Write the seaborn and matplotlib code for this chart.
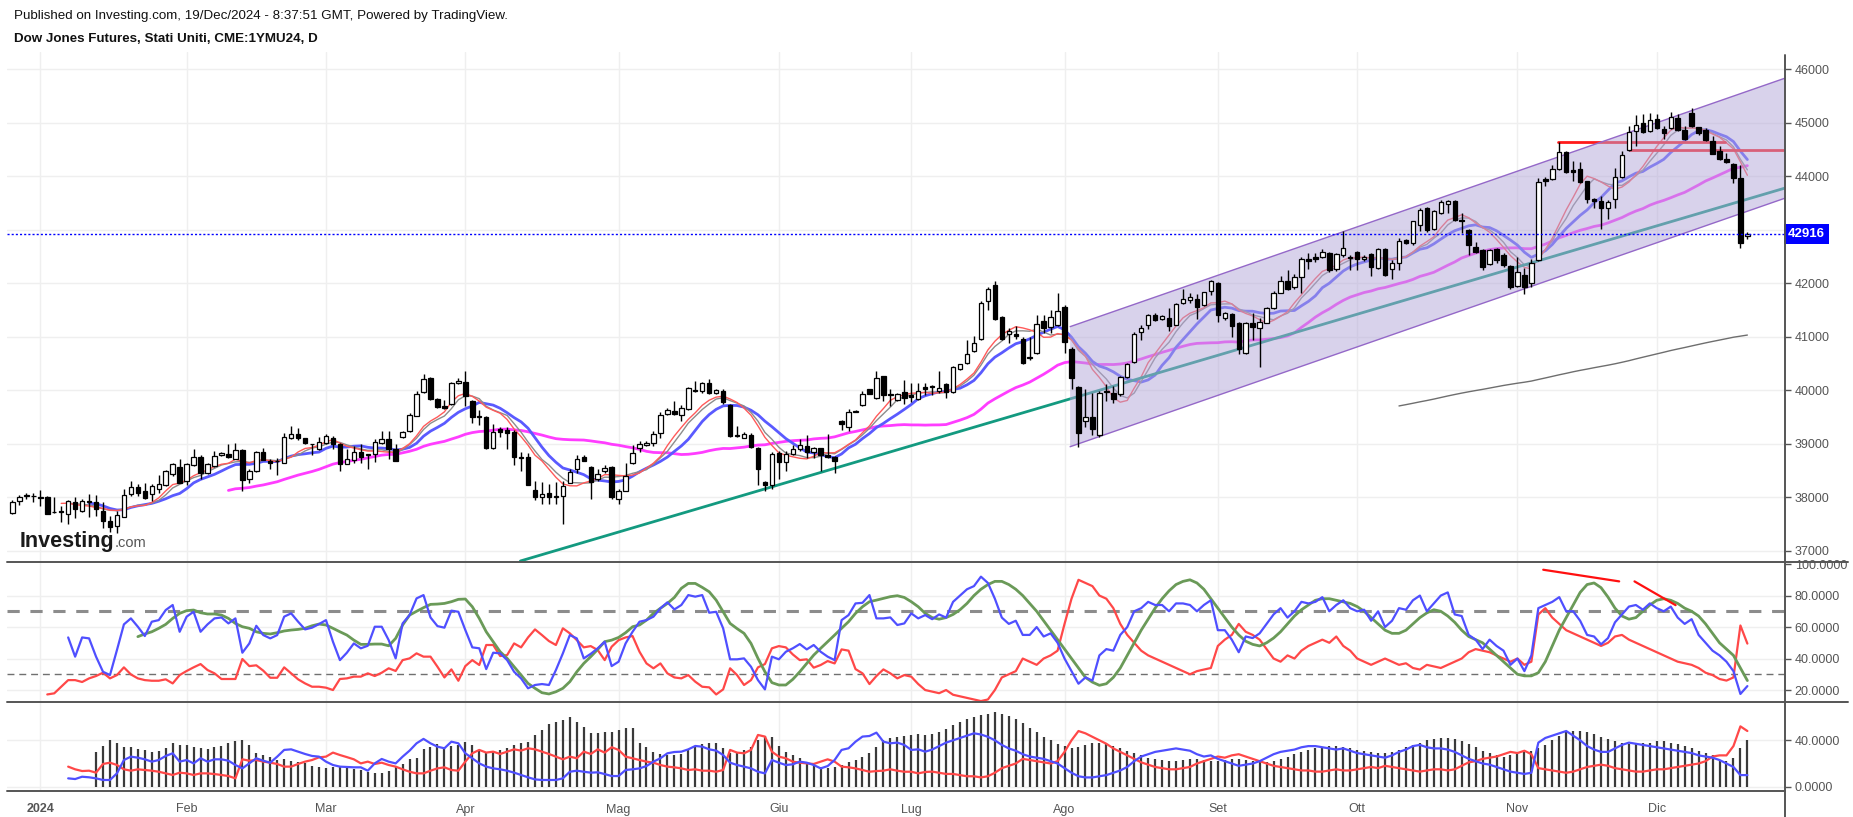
import numpy as np
import pandas as pd
import seaborn as sns
import matplotlib.pyplot as plt
from matplotlib.patches import Polygon
from matplotlib.lines import Line2D
from matplotlib.transforms import blended_transform_factory

sns.set_style("white")
plt.rcParams['font.family'] = ['Liberation Sans', 'DejaVu Sans']

# daily bars, bar 0 = 2 Jan 2024 (first bar on screen is 26 Dec 2023)
first_bar = -4
opens = [37700, 37925, 38020, 38030, 38000, 38015, 37720, 37750, 37680, 37905, 37750, 37930, 37905, 37750, 37550, 37460, 37640, 38060, 38200, 38110,
         38060, 38165, 38227, 38443, 38574, 38307, 38600, 38760, 38462, 38586, 38790, 38802, 38722, 38877, 38338, 38493, 38852, 38670, 38680, 38650,
         39100, 39190, 39100, 38990, 38908, 39020, 39110, 39000, 38630, 38690, 38852, 38800, 38815, 39020, 39093, 38895, 39124, 39236, 39527, 39966,
         40226, 39842, 39712, 39750, 40133, 40150, 39793, 39514, 39500, 38926, 39280, 39250, 39223, 38750, 38760, 38140, 37998, 38090, 38010, 38016,
         38276, 38536, 38760, 38574, 38350, 38493, 38574, 37967, 38122, 38636, 38926, 38975, 39019, 39205, 39558, 39620, 39533, 39657, 40000, 39980,
         40145, 39948, 39990, 39731, 39150, 39112, 39162, 38926, 38290, 38227, 38833, 38660, 38803, 38895, 38957, 38846, 38914, 38790, 38753, 39422,
         39316, 39595, 39731, 40022, 39855, 40270, 39935, 39811, 39960, 39904, 39836, 40053, 40084, 39980, 40112, 39970, 40390, 40514, 40731, 40960,
         41660, 41969, 41369, 41059, 41059, 40966, 40610, 40700, 41300, 41183, 41214, 41554, 40774, 40069, 39419, 39493, 39171, 39960, 39945, 39926,
         40248, 40533, 41090, 41226, 41400, 41338, 41350, 41226, 41629, 41687, 41706, 41594, 41862, 42000, 41344, 41419, 41250, 40706, 41250, 41156,
         41262, 41531, 41825, 42044, 41925, 42112, 42450, 42487, 42500, 42562, 42262, 42531, 42500, 42594, 42450, 42550, 42281, 42637, 42269, 42375,
         42812, 42750, 43094, 43406, 43012, 43312, 43487, 43531, 43187, 42987, 42687, 42625, 42356, 42637, 42531, 42331, 41950, 42156, 42012, 42437,
         43956, 43950, 44144, 44450, 44112, 44137, 43906, 43581, 43531, 43406, 43581, 43987, 44487, 44844, 45000, 44844, 45062, 44887, 44906, 45094,
         44856, 45175, 44919, 44862, 44656, 44481, 44325, 44231, 43969, 42887]
highs = [37950, 38045, 38080, 38090, 38130, 38030, 38000, 37845, 37955, 38000, 37967, 38060, 38050, 37905, 37657, 37750, 38150, 38307, 38245, 38260,
         38245, 38410, 38510, 38648, 38722, 38648, 38895, 38784, 38648, 38865, 38845, 38988, 39019, 38895, 38524, 38865, 38914, 38710, 38740, 39205,
         39330, 39300, 39115, 39000, 39130, 39175, 39145, 39020, 38895, 38957, 38988, 38815, 39093, 39236, 39236, 39000, 39248, 39576, 39990, 40307,
         40257, 39855, 39824, 40164, 40226, 40370, 39811, 39640, 39527, 39372, 39316, 39310, 39267, 38846, 38833, 38307, 38290, 38258, 38290, 38307,
         38524, 38784, 38790, 38586, 38524, 38598, 38586, 38165, 38648, 38970, 39050, 39050, 39248, 39589, 39669, 39793, 39731, 40071, 40183, 40152,
         40214, 40022, 40022, 39743, 39329, 39223, 39193, 38940, 38307, 38852, 38865, 38865, 38970, 39093, 39174, 38945, 38926, 39186, 38771, 39452,
         39650, 39638, 39980, 40028, 40362, 40276, 40022, 39948, 40195, 40133, 40145, 40133, 40102, 40362, 40143, 40452, 40496, 40948, 41022, 41660,
         41926, 42043, 41381, 41164, 41195, 40997, 40997, 41412, 41412, 41505, 41814, 41598, 40811, 40081, 40019, 39957, 39988, 40112, 40081, 40267,
         40514, 41084, 41226, 41430, 41443, 41412, 41536, 41629, 41889, 41812, 41794, 41844, 42062, 42031, 41456, 41437, 41269, 41281, 41437, 41344,
         41550, 41862, 42137, 42250, 42175, 42487, 42562, 42562, 42637, 42594, 42562, 42981, 42531, 42612, 42531, 42562, 42656, 42656, 42437, 42844,
         42825, 43169, 43406, 43425, 43375, 43562, 43562, 43562, 43312, 43012, 42781, 42637, 42637, 42656, 42562, 42344, 42500, 42281, 42456, 43969,
         43981, 44219, 44637, 44469, 44281, 44262, 43919, 43594, 43625, 43550, 44156, 44469, 44937, 45144, 45156, 45187, 45156, 44937, 45200, 45156,
         44937, 45281, 44919, 44906, 44750, 44562, 44437, 44250, 44219, 42950]
lows = [37690, 37860, 37970, 37905, 37840, 37680, 37700, 37534, 37500, 37614, 37719, 37640, 37657, 37420, 37350, 37335, 37630, 38030, 38030, 37970,
        37935, 38090, 38215, 38400, 38264, 38233, 38586, 38338, 38443, 38574, 38771, 38740, 38710, 38122, 38276, 38481, 38691, 38536, 38420, 38636,
        39081, 39080, 38990, 38800, 38883, 38990, 38895, 38493, 38617, 38636, 38648, 38524, 38660, 38990, 38722, 38679, 39112, 39217, 39514, 39950,
        39824, 39669, 39657, 39731, 40121, 39700, 39390, 39360, 38895, 38895, 39130, 38895, 38605, 38493, 38227, 37950, 37874, 37874, 37874, 37503,
        38264, 38462, 38672, 37967, 38307, 38450, 37967, 37874, 38122, 38617, 38846, 38957, 38957, 39112, 39533, 39533, 39422, 39638, 39960, 39948,
        39935, 39935, 39750, 39130, 39130, 39100, 38926, 38227, 38122, 38165, 38350, 38493, 38784, 38865, 38740, 38740, 38493, 38740, 38462, 39254,
        39236, 39589, 39712, 39929, 39843, 39805, 39700, 39793, 39750, 39774, 39824, 39917, 39917, 39948, 39864, 39957, 40378, 40483, 40719, 40948,
        41505, 41319, 40935, 40886, 40966, 40483, 40576, 40688, 41071, 41071, 41195, 40700, 40019, 38936, 39307, 39171, 39122, 39802, 39759, 39895,
        40236, 40514, 40948, 41152, 41288, 41319, 41102, 41214, 41610, 41625, 41325, 41575, 41781, 41281, 41312, 41000, 40687, 40687, 40937, 40437,
        41250, 41519, 41812, 41875, 41900, 41812, 42262, 42406, 42469, 42219, 42237, 42500, 42250, 42250, 42425, 42137, 42262, 42137, 42081, 42250,
        42737, 42719, 42981, 42956, 42987, 43300, 43312, 43156, 42937, 42531, 42562, 42250, 42344, 42375, 42312, 41887, 41925, 41794, 41925, 42425,
        43812, 43937, 44125, 44062, 43906, 43875, 43500, 43406, 43012, 43200, 43406, 43969, 44469, 44562, 44812, 44831, 44875, 44700, 44875, 44844,
        44669, 44925, 44781, 44656, 44419, 44312, 44250, 43875, 42656, 42825]
closes = [37905, 38010, 38040, 38020, 37990, 37690, 37720, 37719, 37936, 37781, 37936, 37920, 37781, 37565, 37450, 37670, 38050, 38200, 38090, 37985,
          38215, 38258, 38493, 38617, 38276, 38629, 38753, 38450, 38617, 38771, 38833, 38760, 38883, 38320, 38493, 38852, 38697, 38650, 38670, 39130,
          39190, 39100, 39020, 38990, 39040, 39155, 39000, 38617, 38710, 38845, 38753, 38800, 39040, 39081, 38895, 38679, 39223, 39545, 39935, 40207,
          39842, 39688, 39663, 40133, 40176, 39886, 39502, 39500, 38926, 39223, 39223, 39205, 38753, 38740, 38233, 37998, 38060, 37998, 38010, 38215,
          38474, 38722, 38679, 38289, 38443, 38555, 37998, 38122, 38400, 38833, 39000, 39019, 39186, 39545, 39638, 39558, 39669, 40040, 39990, 40133,
          39948, 40010, 39774, 39143, 39143, 39186, 38940, 38536, 38233, 38803, 38660, 38803, 38895, 38970, 38846, 38926, 38784, 38760, 38679, 39372,
          39589, 39620, 39935, 39935, 40226, 39917, 39904, 39929, 39855, 39867, 39979, 40022, 40059, 40040, 39976, 40440, 40483, 40681, 40886, 41641,
          41889, 41338, 40960, 41102, 41010, 40502, 40607, 41245, 41164, 41369, 41486, 40904, 40236, 39196, 39493, 39276, 39957, 39988, 39833, 40248,
          40496, 41053, 41164, 41400, 41319, 41381, 41195, 41617, 41703, 41750, 41550, 41831, 42044, 41406, 41437, 41206, 40769, 41250, 41175, 41281,
          41531, 41812, 42044, 41887, 42112, 42450, 42419, 42462, 42594, 42250, 42544, 42656, 42469, 42450, 42500, 42312, 42637, 42156, 42375, 42800,
          42750, 43156, 43375, 42987, 43344, 43512, 43531, 43175, 43169, 42719, 42594, 42312, 42625, 42437, 42344, 41937, 42206, 41925, 42375, 43894,
          43919, 44137, 44450, 44075, 44081, 43887, 43575, 43544, 43406, 43519, 43981, 44394, 44831, 44956, 44831, 45050, 44906, 44812, 45106, 44862,
          44700, 44937, 44812, 44669, 44425, 44331, 44262, 43969, 42762, 42919]
last_price = 42916

month_labels = ["2024", "Feb", "Mar", "Apr", "Mag", "Giu", "Lug", "Ago", "Set", "Ott", "Nov", "Dic"]
month_bars = [0, 21, 41, 61, 83, 106, 125, 147, 169, 189, 212, 232]

# moving averages shown on the price panel (period, colour, width)
ma_periods = [200, 32, 12, 9, 8]
ma_colors = ["#6e6e6e", "#ff3dff", "#5a5aff", "#8c8c8c", "#ff5a5a"]
ma_widths = [1.0, 2.0, 2.0, 1.0, 1.0]

# drawn objects (bar index / price)
channel_x = [147.8, 250.4]
channel_top = [41190, 45834]
channel_bottom = [38946, 43591]
trend_x = [68.9, 250.4]
trend_y = [36810, 43780]
resist_x = [[217.8, 241.8], [228.2, 250.4]]
resist_y = [44644, 44500]

# oscillator panel
osc_blue_start = 4
osc_blue = [53.4, 41.2, 53.4, 52.8, 41.2, 31.6, 29.5, 45.4, 61.7, 65.5, 60.2, 54.3, 63.4, 64.4, 70.8, 74.0, 57.0, 66.6, 69.7, 57.0,
            61.7, 65.5, 66.1, 62.3, 65.5, 43.7, 49.6, 60.8, 54.9, 52.8, 54.9, 66.6, 68.7, 63.4, 58.5, 59.6, 61.9, 64.4, 50.7, 39.0,
            43.7, 49.6, 46.5, 48.1, 60.2, 60.2, 51.7, 40.1, 62.3, 67.6, 78.2, 80.3, 66.1, 60.6, 59.6, 70.4, 69.7, 58.1, 47.1, 46.5,
            33.3, 43.7, 43.3, 39.0, 31.6, 27.4, 21.1, 23.2, 23.8, 23.2, 32.7, 43.3, 54.9, 52.8, 40.1, 43.0, 46.5, 50.7, 35.2, 38.0, 49.6,
            57.0, 63.4, 64.4, 66.6, 71.9, 75.7, 71.2, 74.0, 80.3, 79.3, 80.3, 69.1, 69.7, 59.2, 39.5, 39.5, 40.1, 34.8, 26.3, 20.4,
            41.2, 39.5, 44.3, 46.5, 49.2, 45.8, 48.6, 44.3, 41.2, 39.0, 64.4, 67.6, 75.0, 75.4, 80.3, 65.5, 65.5, 66.1, 61.3, 62.3,
            68.7, 65.5, 67.6,
            65, 68, 66, 76, 80, 84, 86, 92, 88, 78, 66, 62, 64, 55, 55, 60, 54, 56, 50, 40,
            32, 24, 28, 26, 42, 46, 45, 55, 60, 70, 72, 76, 74, 74, 70, 75, 75, 74, 70, 74,
            77, 58, 58, 52, 44, 54, 53, 56, 62, 68, 72, 66, 70, 76, 75, 76, 79, 70, 74, 77,
            72, 70, 71, 64, 70, 60, 64, 72, 71, 77, 80, 70, 75, 80, 82, 68, 67, 55, 52, 46,
            52, 48, 45, 36, 40, 32, 42, 72, 74, 76, 79, 70, 70, 64, 55, 54, 49, 53, 63, 68,
            73, 74, 71, 75, 72, 70, 73, 66, 62, 65, 55, 50, 45, 42, 38, 32, 17.5, 22.5]
osc_red_start = 1
osc_red = [17.2, 17.9, 22.1, 26.3, 26.3, 25.1, 27.4, 28.9, 31.0, 27.4, 29.5, 34.4, 29.9, 27.4, 26.3, 25.9, 25.9, 26.8, 24.2, 29.5,
           32.1, 34.4, 36.5, 32.7, 30.6, 27.0, 27.0, 27.0, 39.7, 35.2, 35.7, 32.3, 27.8, 27.8, 34.4, 30.6, 26.8, 24.2, 22.1, 22.1,
           21.5, 20.0, 27.0, 27.4, 28.5, 28.5, 30.6, 28.9, 31.0, 33.8, 32.1, 39.0, 40.1, 43.3, 41.2, 41.2, 34.8, 28.0, 33.1, 25.9,
           35.2, 39.0, 35.9, 48.6, 48.6, 41.6, 42.2, 49.6, 47.1, 53.4, 58.5, 54.9, 51.1, 48.6, 59.2, 56.0, 51.7, 47.1, 47.9, 45.4,
           39.0, 47.5, 51.7, 53.4, 54.3, 44.3, 36.9, 33.8, 36.9, 30.6, 28.0, 27.4, 29.5, 25.3, 22.1, 21.7, 17.2, 20.4, 33.8, 29.5,
           23.2, 26.3, 34.4, 36.5, 46.5, 47.9, 47.1, 42.6, 39.0, 39.5, 34.2, 35.9, 38.4, 36.9, 45.8, 45.0, 33.3, 30.6, 23.8, 28.9,
           33.1, 30.6, 27.4, 29.5, 28.5, 23.8, 20.0,
           19, 18, 20, 17, 16, 15, 14, 13, 14, 20, 28, 30, 32, 40, 38, 36, 40, 42, 45, 62,
           78, 90, 88, 86, 80, 78, 72, 62, 55, 50, 45, 42, 40, 38, 36, 34, 32, 30, 32, 33,
           34, 48, 52, 55, 62, 57, 55, 52, 46, 40, 38, 42, 40, 45, 48, 50, 52, 50, 54, 48,
           45, 40, 38, 36, 38, 40, 38, 36, 37, 34, 33, 36, 35, 34, 36, 38, 40, 44, 46, 45,
           44, 42, 40, 38, 40, 36, 38, 68, 72, 66, 62, 58, 56, 54, 52, 50, 48, 50, 54, 55,
           52, 50, 48, 46, 44, 42, 40, 38, 37, 36, 34, 31, 29.5, 27, 26, 28, 61, 49.5]
osc_green_start = 14
osc_green = [53.9, 55.6, 57.0, 59.2, 61.7, 65.5, 68.7, 70.4, 70.8, 69.1, 68.3, 68.3, 67.6, 65.5, 62.3, 60.2, 59.2, 57.0, 56.0, 55.6,
             56.4, 57.5, 58.1, 58.5, 59.2, 60.8, 61.9, 61.3, 59.2, 57.0, 54.9, 51.7, 49.0, 49.0, 49.2, 49.2, 48.1, 52.8, 61.3, 67.6,
             70.0, 72.3, 74.4, 74.6, 75.0, 76.1, 77.6, 77.8, 72.9, 65.5, 57.0, 50.7, 44.3, 40.1, 34.8, 29.5, 24.2, 21.1, 18.3, 17.5,
             18.9, 21.1, 25.3, 31.6, 36.9, 41.2, 45.8, 50.7, 51.7, 53.4, 56.4, 60.2, 61.3, 64.4, 68.7, 71.9, 75.0, 78.8, 84.6, 87.7,
             87.7, 85.2, 82.4, 77.1, 69.7, 62.3, 59.0, 56.0, 49.6, 40.1, 31.6, 24.7, 23.2, 23.2, 26.8, 31.6, 36.9, 42.2, 46.5, 50.7,
             54.9, 59.2, 63.4, 68.7, 72.9, 76.1, 77.1, 78.2, 79.3, 79.9, 78.8, 76.1, 72.9, 68.7,
             66, 65, 66, 68, 71, 75, 80, 84, 87, 89, 89, 87, 84, 80, 75, 70, 64, 58, 52, 46,
             40, 34, 28, 25, 23, 24, 28, 34, 42, 50, 58, 65, 72, 78, 83, 87, 89, 90, 88, 84,
             78, 72, 66, 60, 55, 51, 49, 48, 50, 53, 57, 62, 67, 71, 74, 77, 78, 78, 77, 76,
             75, 73, 70, 66, 62, 58, 56, 56, 58, 62, 66, 69, 71, 70, 67, 63, 58, 54, 52, 50,
             46, 42, 38, 34, 30, 29, 29, 31, 38, 48, 58, 66, 74, 82, 87, 88, 85, 79, 72, 67,
             65, 66, 70, 74, 77, 78, 77, 75, 72, 70, 67, 62, 56, 50, 46, 42, 34, 26]
osc_marks_x = [[215.7, 226.6], [228.8, 234.7]]
osc_marks_y = [[96.4, 89.0], [89.0, 73.9]]

# lower panel: histogram and two lines
dmi_start = 4
dmi_blue = [7.2, 6.6, 8.6, 8.1, 7.2, 5.8, 5.8, 11.5, 23.0, 25.9, 25.0, 23.6, 21.6, 23.0, 26.5, 28.8, 21.6, 23.0, 20.1, 24.5,
            21.6, 23.6, 23.6, 22.4, 18.7, 15.8, 20.1, 24.5, 22.4, 20.7, 25.9, 31.7, 32.2, 30.2, 28.2, 26.5, 25.9, 21.6, 18.7, 17.3,
            17.0, 16.7, 16.7, 13.8, 20.1, 23.9, 21.6, 20.1, 25.9, 31.1, 37.4, 41.2, 37.4, 34.5, 33.1, 38.8, 37.4, 28.8, 24.5, 20.1,
            17.3, 15.8, 15.0, 13.8, 12.1, 10.1, 8.1, 6.3, 5.8, 5.8, 5.8, 7.2, 12.9, 13.8, 12.9, 12.1, 12.4, 10.9, 9.2, 9.2,
            14.4, 15.0, 15.8, 17.8, 21.6, 24.5, 28.8, 29.9, 30.2, 32.2, 35.1, 34.5, 32.2, 31.1, 27.3, 20.7, 18.7, 17.3, 15.8, 12.9,
            11.5, 23.0, 20.7, 18.7, 19.3, 21.6, 20.7, 18.7, 15.8, 17.8, 23.0, 31.7, 33.1, 38.8, 43.2, 43.7, 46.6, 38.8, 37.4, 38.0,
            36.0, 31.7, 32.2, 30.2,
            32, 35, 38, 40, 42, 44, 46, 45, 43, 40, 36, 33, 31, 28, 26, 25, 24, 22, 20, 16,
            12, 9, 8, 8, 9, 10, 12, 14, 17, 22, 26, 28, 30, 31, 32, 33, 32, 31, 28, 26,
            27, 24, 22, 20, 18, 19, 20, 22, 25, 28, 30, 31, 32, 34, 35, 35, 34, 33, 32, 33,
            31, 29, 28, 27, 26, 25, 27, 30, 32, 35, 36, 34, 33, 33, 32, 30, 27, 24, 22, 20,
            19, 17, 15, 13, 12, 11, 12, 38, 42, 44, 46, 48, 44, 40, 35, 32, 30, 30, 33, 36,
            38, 37, 36, 35, 34, 33, 32, 31, 30, 29, 27, 26, 25, 23, 20, 17, 10, 10]
dmi_red = [17.3, 15.0, 13.5, 13.8, 12.1, 19.6, 20.7, 18.7, 15.0, 13.8, 15.0, 14.4, 13.8, 12.9, 11.5, 10.1, 12.1, 11.5, 10.1, 11.5,
           11.5, 10.9, 10.1, 9.2, 7.2, 23.6, 22.4, 23.0, 21.6, 20.7, 19.6, 17.3, 17.3, 19.6, 21.6, 23.0, 25.3, 25.9, 29.4, 27.3,
           25.5, 23.6, 20.1, 21.6, 19.6, 20.7, 18.7, 17.3, 15.0, 12.9, 11.5, 11.5, 13.8, 15.8, 16.7, 14.4, 13.8, 21.6, 28.8, 31.7,
           29.4, 30.2, 28.2, 30.2, 32.2, 31.1, 33.1, 32.2, 30.2, 28.2, 25.9, 23.6, 25.9, 24.5, 30.2, 28.2, 32.2, 29.4, 34.0, 31.7,
           25.9, 24.5, 23.0, 21.6, 20.7, 18.7, 17.3, 16.7, 15.8, 14.4, 15.0, 13.8, 13.8, 12.9, 14.4, 31.7, 29.4, 28.8, 31.7, 44.6,
           43.2, 30.2, 25.9, 24.5, 21.6, 20.7, 20.1, 19.6, 21.6, 23.6, 21.6, 17.3, 16.7, 15.8, 14.4, 12.9, 13.5, 13.8, 15.0, 13.8,
           12.9, 12.9, 11.5, 12.7,
           13, 12, 11, 11, 10, 9, 9, 8, 9, 12, 16, 18, 20, 24, 23, 22, 21, 20, 22, 30,
           40, 48, 46, 43, 40, 37, 33, 30, 27, 24, 21, 19, 17, 16, 15, 15, 16, 17, 20, 22,
           24, 26, 25, 27, 28, 26, 24, 22, 20, 18, 17, 16, 15, 14, 14, 13, 13, 14, 15, 14,
           14, 15, 16, 17, 16, 18, 17, 16, 15, 14, 13, 14, 15, 15, 14, 15, 18, 21, 22, 24,
           25, 26, 28, 30, 29, 31, 28, 16, 15, 14, 13, 12, 13, 15, 17, 18, 19, 18, 16, 15,
           14, 13, 13, 14, 15, 15, 16, 17, 18, 19, 20, 22, 26, 27, 27, 35, 52, 48]
hist_start = 8
hist = [30.2, 35.1, 40.3, 37.4, 34.0, 34.0, 32.2, 31.7, 30.2, 31.1, 33.1, 38.0, 36.0, 36.0, 34.5, 33.1, 32.2, 34.0, 35.1, 38.0,
        39.2, 40.3, 36.0, 29.4, 27.3, 25.3, 23.0, 23.6, 22.4, 21.6, 20.1, 17.8, 17.3, 15.8, 17.3, 17.8, 15.8, 15.0, 14.4, 12.9,
        11.5, 11.5, 13.8, 16.7, 19.6, 23.6, 24.5, 32.2, 34.5, 36.5, 34.5, 35.2, 36.0, 38.8, 36.0, 31.1, 28.8, 30.2, 31.7, 33.1,
        36.0, 38.0, 38.8, 44.6, 48.9, 53.8, 56.1, 57.6, 59.9, 55.5, 51.8, 46.0, 46.6, 46.9, 47.5, 48.9, 50.9, 50.4, 38.0, 34.5,
        30.2, 28.2, 27.3, 27.3, 28.2, 32.2, 34.5, 36.5, 37.4, 38.0, 33.1, 28.8, 30.2, 31.7, 34.5, 40.3, 43.7, 43.2, 35.1, 30.2,
        27.3, 24.5, 21.6, 19.6, 17.3, 15.8, 17.3, 18.7, 21.6, 23.0, 25.9, 29.4, 34.5, 40.3, 41.7, 43.2, 43.7, 44.6, 45.5, 44.6,
        45, 47, 50, 53, 56, 58, 60, 62, 63, 64, 63, 61, 58, 55, 51, 47, 43, 40, 37, 35,
        33, 34, 36, 38, 38, 37, 35, 33, 31, 29, 27, 25, 24, 23, 22, 22, 23, 24, 24, 23,
        22, 22, 23, 24, 24, 23, 22, 21, 21, 22, 24, 26, 28, 30, 32, 33, 34, 35, 35, 34,
        33, 32, 31, 30, 29, 29, 30, 32, 34, 36, 38, 40, 41, 42, 42, 41, 39, 37, 34, 31,
        29, 27, 26, 27, 28, 30, 31, 33, 36, 40, 44, 47, 48, 48, 47, 45, 43, 41, 39, 38,
        37, 37, 38, 38, 39, 39, 38, 37, 35, 33, 31, 29, 27, 23, 22, 25, 33, 40]

W, H = 1853, 817
fig = plt.figure(figsize=(W / 100, H / 100), dpi=100)


def panel(top, bottom):
    return [7 / W, 1 - bottom / H, 1778 / W, (bottom - top) / H]


ax = fig.add_axes(panel(52, 561.7))
ax2 = fig.add_axes(panel(561.7, 702), sharex=ax)
ax3 = fig.add_axes(panel(702, 791), sharex=ax)

bars = pd.DataFrame({"o": opens, "h": highs, "l": lows, "c": closes})
bars["x"] = np.arange(first_bar, first_bar + len(bars))

# moving averages
for p, col, lw in zip(ma_periods, ma_colors, ma_widths):
    ma = bars["c"].rolling(p).mean()
    ok = ma.notna()
    sns.lineplot(x=bars["x"][ok], y=ma[ok], ax=ax, color=col, lw=lw, zorder=3)

# support line, resistance lines
sns.lineplot(x=trend_x, y=trend_y, ax=ax, color="#139a80", lw=2, zorder=3)
for rx, ry in zip(resist_x, resist_y):
    ax.plot(rx, [ry, ry], color="#ff1a1a", lw=2, zorder=3)

# channel
poly = Polygon([(channel_x[0], channel_top[0]), (channel_x[1], channel_top[1]),
                (channel_x[1], channel_bottom[1]), (channel_x[0], channel_bottom[0])],
               closed=True, fc="#b3a6d9", ec="none", alpha=0.5, zorder=4)
ax.add_patch(poly)
ax.plot(channel_x, channel_top, color="#9468c8", lw=1, zorder=4)
ax.plot(channel_x, channel_bottom, color="#9468c8", lw=1, zorder=4)

# candles
up = bars["c"] >= bars["o"]
body = (bars["c"] - bars["o"]).abs().clip(lower=14)
ax.vlines(bars["x"], bars["l"], bars["h"], color="black", lw=1, zorder=5)
ax.bar(bars["x"][up], body[up], bottom=bars["o"][up], width=0.64, color="white", edgecolor="black", lw=0.9, zorder=6)
ax.bar(bars["x"][~up], body[~up], bottom=bars["c"][~up], width=0.64, color="black", edgecolor="black", lw=0.9, zorder=6)

ax.axhline(last_price, color="#0000ff", lw=1, ls=(0, (1.5, 1.5)), zorder=7)
tr = blended_transform_factory(ax.transAxes, ax.transData)
ax.text(1.0015, last_price, str(last_price), transform=tr, ha="left", va="center", color="white",
        fontsize=9.5, fontweight="bold", zorder=8,
        bbox=dict(boxstyle="square,pad=0.3", fc="#0000ff", ec="none"))

# oscillator panel
for start, vals, col, lw in [(osc_red_start, osc_red, "#ff4848", 1.6),
                             (osc_green_start, osc_green, "#6a9a58", 2.0),
                             (osc_blue_start, osc_blue, "#4f4fff", 1.6)]:
    sns.lineplot(x=np.arange(start, start + len(vals)), y=vals, ax=ax2, color=col, lw=lw, zorder=3)
ax2.axhline(70, color="#8c8c8c", lw=2.2, ls=(0, (4, 3.5)), zorder=2)
ax2.axhline(30, color="#707070", lw=1, ls=(0, (5, 3.5)), zorder=2)
for mx, my in zip(osc_marks_x, osc_marks_y):
    ax2.plot(mx, my, color="#ff1010", lw=1.6, zorder=4)

# lower panel
hx = np.arange(hist_start, hist_start + len(hist))
ax3.vlines(hx, 0, hist, color="#3a3a3a", lw=1.6, zorder=2)
sns.lineplot(x=np.arange(dmi_start, dmi_start + len(dmi_red)), y=dmi_red, ax=ax3, color="#ff4848", lw=1.6, zorder=3)
sns.lineplot(x=np.arange(dmi_start, dmi_start + len(dmi_blue)), y=dmi_blue, ax=ax3, color="#4f4fff", lw=1.6, zorder=3)

# axes cosmetics
ax.set_xlim(-4.78, 250.4)
ax.set_ylim(36797, 46323)
ax2.set_ylim(12.4, 101.5)
ax3.set_ylim(-3.7, 73)

grid = "#efefef"
for a in (ax, ax2, ax3):
    for s in a.spines.values():
        s.set_visible(False)
    a.set_xlabel("")
    a.set_ylabel("")
    a.yaxis.tick_right()
    a.tick_params(axis="y", direction="out", length=4, width=1, color="#555555",
                  labelcolor="#555555", labelsize=9, pad=3)
    for m in month_bars:
        a.axvline(m, color=grid, lw=1, zorder=0)

price_ticks = list(range(37000, 46001, 1000))
ax.set_yticks(price_ticks)
# the 43000 label is hidden behind the last-price box
ax.set_yticklabels(["" if v == 43000 else str(v) for v in price_ticks])
for v in price_ticks:
    ax.axhline(v, color=grid, lw=1, zorder=0)
ax2.set_yticks([20, 40, 60, 80, 100])
ax2.set_yticklabels(["%.4f" % v for v in [20, 40, 60, 80, 100]])
for v in [20, 40, 60, 80]:
    ax2.axhline(v, color=grid, lw=1, zorder=0)
ax3.set_yticks([0, 40])
ax3.set_yticklabels(["0.0000", "40.0000"])
for v in [0, 40]:
    ax3.axhline(v, color=grid, lw=1, zorder=0)

ax.tick_params(axis="x", bottom=False, labelbottom=False)
ax2.tick_params(axis="x", bottom=False, labelbottom=False)
ax3.set_xticks(month_bars)
ax3.set_xticklabels(month_labels)
ax3.tick_params(axis="x", direction="out", length=4, color="#555555", labelcolor="#555555",
                labelsize=9, pad=5)
ax3.get_xticklabels()[0].set_fontweight("bold")

# frame lines
for yy, x1 in [(561.7, 1848), (702, 1848), (791, 1785)]:
    fig.add_artist(Line2D([7 / W, x1 / W], [1 - yy / H, 1 - yy / H], color="#555555", lw=1.4))
fig.add_artist(Line2D([1785 / W, 1785 / W], [1 - 55 / H, 0], color="#555555", lw=1.4))

# header and logo
fig.text(14 / W, 1 - 16 / H, "Published on Investing.com, 19/Dec/2024 - 8:37:51 GMT, Powered by TradingView.",
         fontsize=9.6, color="#111111", va="center")
fig.text(14 / W, 1 - 39 / H, "Dow Jones Futures, Stati Uniti, CME:1YMU24, D",
         fontsize=9.6, fontweight="bold", color="#111111", va="center")
fig.text(20 / W, 1 - 547 / H, "Investing", fontsize=15.5, fontweight="bold", color="#1a1a1a", va="baseline")
fig.text(115 / W, 1 - 547 / H, ".com", fontsize=10.5, color="#555555", va="baseline")

fig.savefig("out.png", dpi=100, facecolor="white")
